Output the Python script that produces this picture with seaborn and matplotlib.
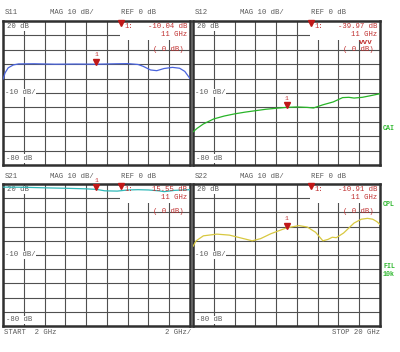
import numpy as np
import matplotlib
matplotlib.use("Agg")
import matplotlib.pyplot as plt
from matplotlib.patches import Rectangle
import seaborn as sns

# --- trace data (GHz, dB) ---
s11_freq = [2.0, 2.2, 2.5, 3.0, 3.5, 5.0, 7.0, 9.0, 11.0, 13.0, 14.0, 15.0, 15.5, 16.2, 16.8, 17.5, 18.3, 19.0, 19.5, 20.0]
s11_db = [-20.5, -16, -12.5, -10.5, -9.8, -9.7, -10.0, -9.9, -10.0, -9.7, -9.6, -10.2, -11.5, -14, -14.5, -13, -12.2, -12.8, -15, -20]

s12_freq = [2.0, 2.4, 3.0, 4.0, 5.0, 6.0, 7.0, 8.0, 9.0, 10.0, 11.0, 12.0, 13.0, 13.6, 14.5, 15.5, 16.4, 17.0, 17.5, 18.3, 19.0, 20.0]
s12_db = [-57, -54.5, -51.5, -48, -46, -44.5, -43.3, -42.3, -41.3, -40.6, -40.0, -39.7, -40.0, -40.4, -38.2, -36.2, -33.2, -33.0, -33.5, -33.0, -32.0, -30.5]

s21_freq = [2.0, 4.0, 6.0, 8.0, 10.0, 11.0, 11.8, 13.0, 14.0, 15.0, 16.0, 17.0, 17.5, 18.5, 20.0]
s21_db = [17.8, 17.7, 17.3, 17.0, 16.6, 16.2, 15.2, 15.0, 15.8, 16.0, 15.8, 15.2, 14.6, 15.5, 16.0]

s22_freq = [2.0, 2.3, 3.0, 4.3, 5.5, 6.5, 7.7, 8.5, 9.5, 11.0, 12.2, 13.0, 13.8, 14.5, 15.0, 15.4, 15.8, 16.5, 17.5, 18.2, 18.8, 19.3, 19.7, 20.0]
s22_db = [-24, -20, -16.5, -15.3, -16, -17.8, -20, -18.5, -15, -10.9, -9.3, -10.3, -14, -20, -19, -17.5, -17.8, -14.5, -7.5, -4.8, -4.2, -4.8, -6.5, -8.5]

names = ["S11", "S12", "S21", "S22"]
readouts = ["-10.04 dB", "-39.97 dB", "15.55 dB", "-10.91 dB"]
marker_freq = 11.0

sns.set_style("white")
plt.rcParams["font.family"] = ["Liberation Mono", "DejaVu Sans Mono"]

W, H = 400, 352
fig = plt.figure(figsize=(W / 100, H / 100), dpi=100)
gray = "#5a5a5a"
red = "#c03030"
green = "#30b830"


def px_axes(x0, y0, x1, y1):
    return fig.add_axes([x0 / W, 1 - y1 / H, (x1 - x0) / W, (y1 - y0) / H])


def fig_text(x, y, s, **kw):
    kw.setdefault("fontsize", 5.2)
    kw.setdefault("color", gray)
    fig.text(x / W, 1 - y / H, s, va="center", **kw)


def draw_panel(ax, freq, db, color, readout):
    """Dibuja un panel con la rejilla del analizador y la traza."""
    ax.set_xlim(2, 20)
    ax.set_ylim(-80, 20)
    ax.set_xticks(np.arange(2, 21, 2))
    ax.set_yticks(np.arange(-80, 21, 10))
    ax.set_axisbelow(True)
    ax.grid(True, color="#505050", lw=0.8)
    ax.tick_params(length=0, labelbottom=False, labelleft=False)
    for sp in ax.spines.values():
        sp.set_color("#303030")
        sp.set_linewidth(1.8)
    ax.add_patch(Rectangle((13.25, 6.8), 7, 14, facecolor="white", edgecolor="none", zorder=1))

    sns.lineplot(x=freq, y=db, ax=ax, color=color, lw=0.9, zorder=3)

    # marker 1 on the trace
    val = np.interp(marker_freq, freq, db)
    ax.plot(marker_freq, val + 1.6, marker="v", color="#c01818", ms=3.8, zorder=4)
    ax.text(marker_freq, val + 6.5, "1", color=red, fontsize=4.6, ha="center", va="center", zorder=4)

    # readout box
    ax.plot(13.35, 18.6, marker="v", color="#c01818", ms=3.8, zorder=4, clip_on=False)
    ax.text(13.7, 16.3, "1:", color=red, fontsize=5.2, va="center", zorder=4)
    ax.text(19.7, 16.3, readout, color=red, fontsize=5.2, ha="right", va="center", zorder=4)
    ax.text(19.7, 10.6, "11 GHz", color=red, fontsize=5.2, ha="right", va="center", zorder=4)
    ax.text(19.4, 0.3, "( 0 dB)", color=red, fontsize=5.2, ha="right", va="center", zorder=2)

    bg = dict(facecolor="white", edgecolor="none", pad=0.4)
    ax.text(2.4, 16.0, "20 dB", color=gray, fontsize=5.2, va="center", bbox=bg, zorder=2)
    ax.text(2.15, -30, "-10 dB/", color=gray, fontsize=5.2, va="center", bbox=bg, zorder=2)
    ax.text(2.3, -75.5, "-80 dB", color=gray, fontsize=5.2, va="center", bbox=bg, zorder=2)


boxes = [(3, 21, 190, 165), (193, 21, 380, 165), (3, 184, 190, 326), (193, 184, 380, 326)]
traces = [(s11_freq, s11_db, "#4a64dc"), (s12_freq, s12_db, "#28b428"),
          (s21_freq, s21_db, "#30b8b8"), (s22_freq, s22_db, "#d8c840")]

for name, box, (freq, db, color), readout in zip(names, boxes, traces, readouts):
    ax = px_axes(*box)
    draw_panel(ax, freq, db, color, readout)
    hy = box[1] - 8
    fig_text(box[0] + 2, hy, name)
    fig_text(box[0] + 47, hy, "MAG 10 dB/")
    fig_text(box[0] + 118, hy, "REF 0 dB")

# red reference ticks in the S12 readout
fig_text(359, 42, "vvv", color=red, fontweight="bold", fontsize=5.5)

# side annotations
fig_text(383, 128, "CAI", color=green, fontweight="bold", fontsize=4.8)
fig_text(383, 205, "CPL", color=green, fontweight="bold", fontsize=4.8)
fig_text(383, 267, "FIL", color=green, fontweight="bold", fontsize=4.8)
fig_text(383, 275, "10k", color=green, fontweight="bold", fontsize=4.8)

# sweep labels
fig_text(4, 332, "START  2 GHz")
fig_text(191, 332, "2 GHz/", ha="right")
fig_text(380, 332, "STOP 20 GHz", ha="right")

fig.savefig("out.png", dpi=100)
